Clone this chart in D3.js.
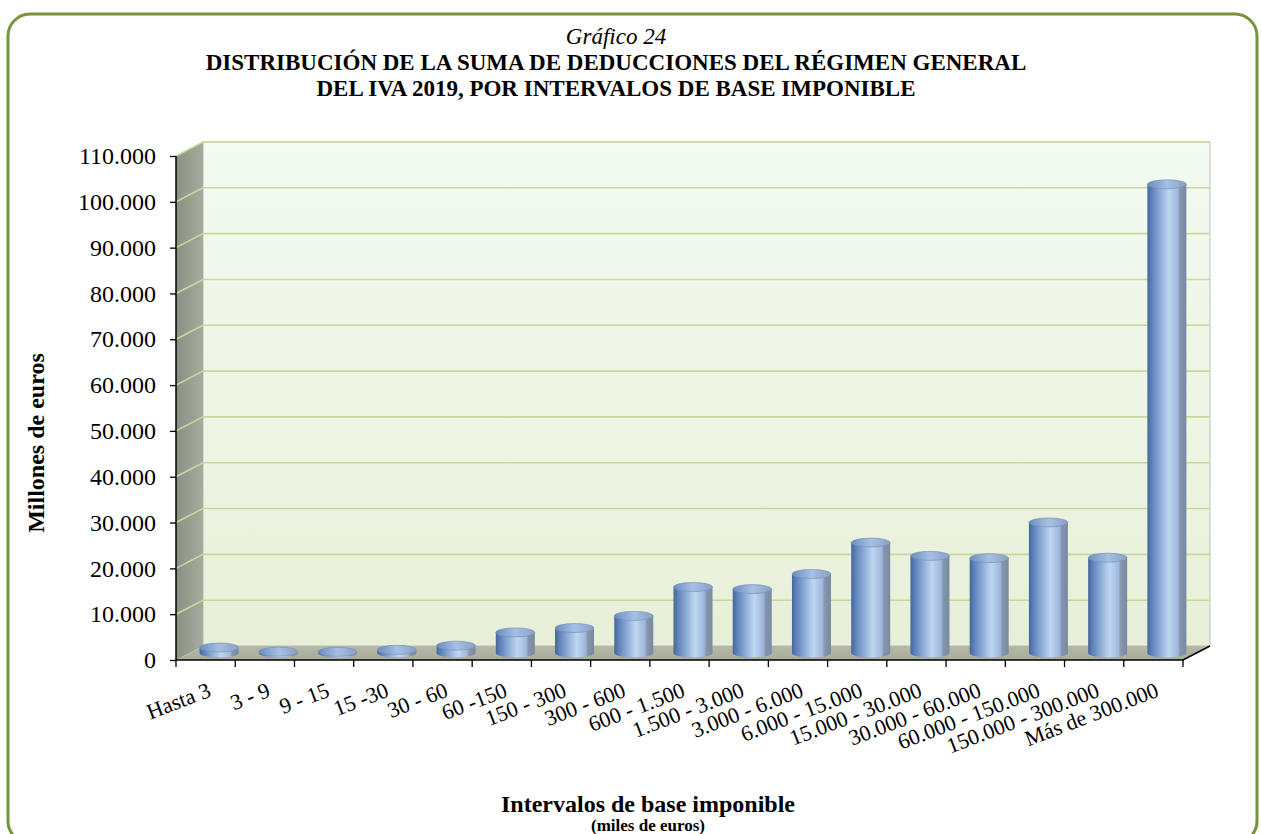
<!DOCTYPE html>
<html><head><meta charset="utf-8">
<script src="https://cdn.jsdelivr.net/npm/d3@7"></script>
<style>
html,body{margin:0;padding:0;background:#fff;overflow:hidden;}
text{font-family:"Liberation Serif","Times New Roman",serif;fill:#000;}
</style></head>
<body><svg id="chart" width="1261" height="834"></svg>
<script>
// ---- data ----
const categories = ["Hasta 3","3 - 9","9 - 15","15 -30","30 - 60","60 -150","150 - 300","300 - 600","600 - 1.500","1.500 - 3.000","3.000 - 6.000","6.000 - 15.000","15.000 - 30.000","30.000 - 60.000","60.000 - 150.000","150.000 - 300.000","Más de 300.000"];
const values = [1200, 300, 250, 700, 1600, 4500, 5450, 8100, 14400, 13950, 17250, 24100, 21200, 20700, 28500, 20800, 102300];
const yTicks = [0,10000,20000,30000,40000,50000,60000,70000,80000,90000,100000,110000];
const titleLines = ["Gráfico 24","DISTRIBUCIÓN DE LA SUMA DE DEDUCCIONES DEL RÉGIMEN GENERAL","DEL IVA 2019, POR INTERVALOS DE BASE IMPONIBLE"];
const yTitle = "Millones de euros";
const xTitle = "Intervalos de base imponible";
const xSubTitle = "(miles de euros)";

// ---- layout ----
const svg = d3.select("#chart");
const X0 = 176, X1 = 1183, Y0 = 660, Y1 = 156;
const DX = 27, DY = -14;
const x = d3.scaleBand().domain(categories).range([X0, X1]).padding(0);
const y = d3.scaleLinear().domain([0, 110000]).range([Y0, Y1]);
const loc = d3.formatLocale({decimal:",", thousands:".", grouping:[3], currency:["","€"]});
const fmt = loc.format(",d");

const defs = svg.append("defs");
function lin(id, x1, y1, x2, y2, stops){
  const g = defs.append("linearGradient").attr("id", id)
    .attr("x1", x1).attr("y1", y1).attr("x2", x2).attr("y2", y2);
  stops.forEach(s => g.append("stop").attr("offset", s[0]).attr("stop-color", s[1]));
}
lin("wall", 0, 0, 0, 1, [[0, "#f3fbf2"], [1, "#e8efd8"]]);
lin("side", 0, 0, 1, 0, [[0, "#8a9085"], [1, "#a7ab9d"]]);
lin("floor", 0, 0, 0, 1, [[0, "#b6b8a7"], [1, "#aaac9b"]]);
lin("cyl", 0, 0, 1, 0, [[0, "#45679a"], [0.12, "#5f84bb"], [0.55, "#bfd6f2"], [0.78, "#9fb8dc"], [0.84, "#8595ad"], [1, "#7a89a2"]]);
lin("cap", 0, 0, 1, 0, [[0, "#6a8cc0"], [0.5, "#a6c0e4"], [1, "#8aa0c4"]]);

// ---- frame ----
svg.append("rect").attr("x", 8).attr("y", 14).attr("width", 1249).attr("height", 829)
  .attr("rx", 22).attr("ry", 22).attr("fill", "#fff").attr("stroke", "#77933c").attr("stroke-width", 3);

// ---- title ----
const tg = svg.append("g").attr("text-anchor", "middle");
tg.append("text").attr("x", 616).attr("y", 44).attr("font-size", 23).attr("font-style", "italic").text(titleLines[0]);
tg.append("text").attr("x", 616).attr("y", 70).attr("font-size", 23).attr("font-weight", "bold").text(titleLines[1]);
tg.append("text").attr("x", 616).attr("y", 96).attr("font-size", 23).attr("font-weight", "bold").text(titleLines[2]);

// ---- 3D walls ----
const yTop = y(110000);
svg.append("polygon").attr("points", [[X0+DX, yTop+DY],[X1+DX, yTop+DY],[X1+DX, Y0+DY],[X0+DX, Y0+DY]].join(" "))
  .attr("fill", "url(#wall)").attr("stroke", "#b0b0b0").attr("stroke-width", 0.8);
svg.append("polygon").attr("points", [[X0, yTop],[X0+DX, yTop+DY],[X0+DX, Y0+DY],[X0, Y0]].join(" "))
  .attr("fill", "url(#side)");
svg.append("polygon").attr("points", [[X0, Y0],[X0+DX, Y0+DY],[X1+DX, Y0+DY],[X1, Y0]].join(" "))
  .attr("fill", "url(#floor)");

// gridlines
const grid = svg.append("g").attr("stroke", "#c6d99c").attr("stroke-width", 1.6).attr("fill", "none");
yTicks.filter(v => v > 0).forEach(v => {
  grid.append("polyline").attr("points", [[X0, y(v)], [X0+DX, y(v)+DY], [X1+DX, y(v)+DY]].join(" "));
});

// ---- bars (cylinders) ----
const bw = 39, ry = 4.5;
const bars = svg.append("g");
categories.forEach((c, i) => {
  const cx = x(c) + x.bandwidth()/2 + DX/2;
  const yb = y(0) + DY/2;
  const yt = y(values[i]) + DY/2;
  const g = bars.append("g");
  g.append("ellipse").attr("cx", cx).attr("cy", yb).attr("rx", bw/2).attr("ry", ry).attr("fill", "url(#cyl)");
  g.append("rect").attr("x", cx - bw/2).attr("y", yt).attr("width", bw).attr("height", Math.max(0, yb - yt)).attr("fill", "url(#cyl)");
  g.append("ellipse").attr("cx", cx).attr("cy", yt).attr("rx", bw/2).attr("ry", ry)
    .attr("fill", "url(#cap)").attr("stroke", "#6f8dbb").attr("stroke-width", 0.6);
});

// ---- axes ----
const yAxis = svg.append("g").attr("transform", `translate(${X0},0)`)
  .call(d3.axisLeft(y).tickValues(yTicks).tickFormat(fmt).tickSize(6).tickPadding(14));
yAxis.select(".domain").attr("stroke", "#000").attr("stroke-width", 1.5).attr("d", `M0,${Y1}V${Y0}`);
yAxis.selectAll(".tick line").attr("stroke", "#000").attr("stroke-width", 1.3);
yAxis.selectAll(".tick text").attr("font-size", 24).attr("font-family", "Liberation Serif, Times New Roman, serif").attr("fill", "#000");

// x axis line + ticks at category boundaries
const xa = svg.append("g").attr("stroke", "#000").attr("stroke-width", 1.5).attr("fill", "none");
xa.append("path").attr("d", `M${X0},${Y0}H${X1}L${X1+DX},${Y0+DY}`);
const bounds = categories.map(c => x(c)).concat([X1]);
bounds.forEach(b => xa.append("line").attr("x1", b).attr("x2", b).attr("y1", Y0).attr("y2", Y0 + 7).attr("stroke-width", 1.3));

// x labels
const xl = svg.append("g");
categories.forEach(c => {
  const px = x(c) + x.bandwidth()/2 + 1, py = 681;
  xl.append("text").attr("transform", `translate(${px},${py}) rotate(-21)`)
    .attr("text-anchor", "end").attr("dominant-baseline", "hanging")
    .attr("font-size", 22).text(c);
});

// axis titles
svg.append("text").attr("transform", "translate(44,443) rotate(-90)").attr("text-anchor", "middle")
  .attr("font-size", 24).attr("font-weight", "bold").text(yTitle);
svg.append("text").attr("x", 648).attr("y", 812).attr("text-anchor", "middle")
  .attr("font-size", 24).attr("font-weight", "bold").text(xTitle);
svg.append("text").attr("x", 648).attr("y", 831).attr("text-anchor", "middle")
  .attr("font-size", 17).attr("font-weight", "bold").text(xSubTitle);
</script></body></html>
